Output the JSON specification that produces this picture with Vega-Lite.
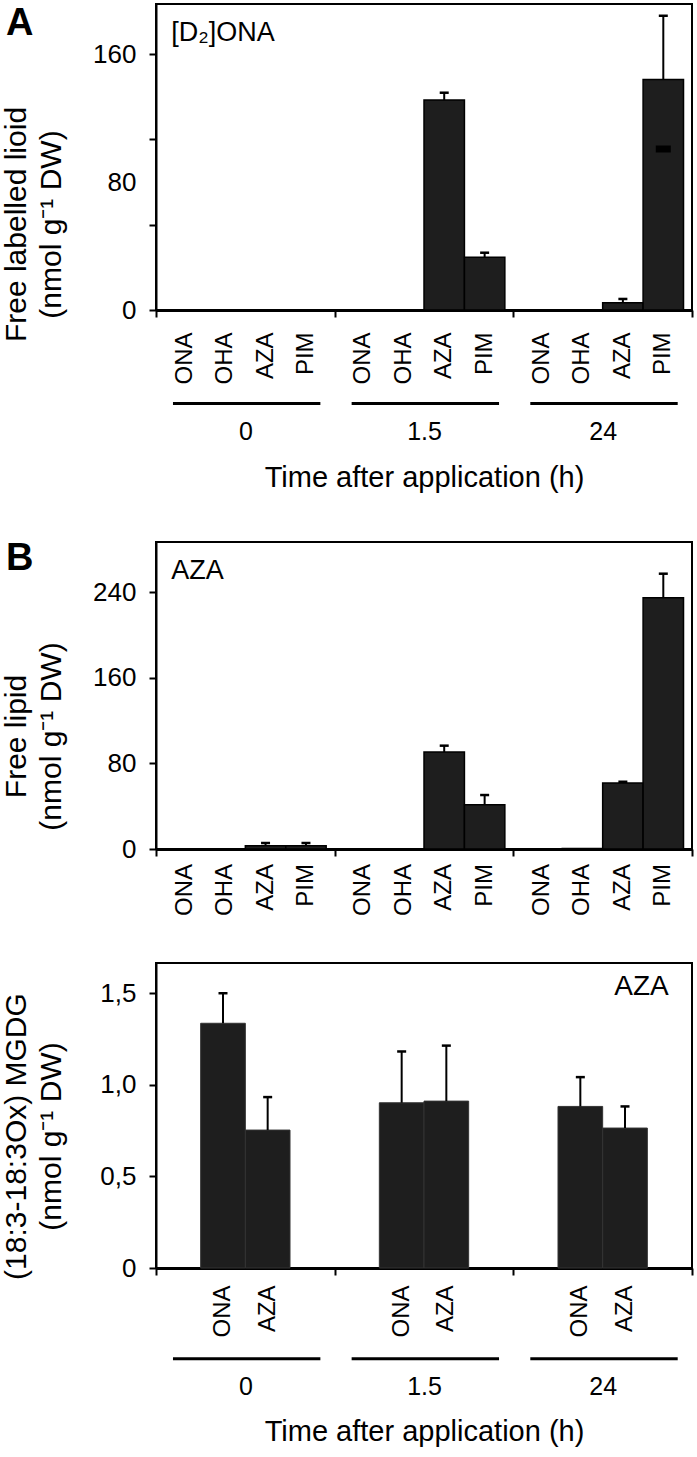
{
  "$schema": "https://vega.github.io/schema/vega-lite/v6.json",
  "background": "white",
  "padding": {"left": 0, "top": 3, "right": 0, "bottom": 0},
  "spacing": 45,
  "resolve": {"scale": {"x": "independent", "xOffset": "independent", "y": "independent"}, "axis": {"x": "independent", "y": "independent"}},
  "datasets": {
    "a": [
      {"time": "0", "compound": "ONA", "value": 0, "hi": 0},
      {"time": "0", "compound": "OHA", "value": 0, "hi": 0},
      {"time": "0", "compound": "AZA", "value": 0, "hi": 0},
      {"time": "0", "compound": "PIM", "value": 0, "hi": 0},
      {"time": "1.5", "compound": "ONA", "value": 0, "hi": 0},
      {"time": "1.5", "compound": "OHA", "value": 0, "hi": 0},
      {"time": "1.5", "compound": "AZA", "value": 131.3, "hi": 135.8},
      {"time": "1.5", "compound": "PIM", "value": 32.9, "hi": 35.8},
      {"time": "24", "compound": "ONA", "value": 0, "hi": 0},
      {"time": "24", "compound": "OHA", "value": 0, "hi": 0},
      {"time": "24", "compound": "AZA", "value": 4.6, "hi": 6.9},
      {"time": "24", "compound": "PIM", "value": 144.1, "hi": 183.9, "lo": 100.7}
    ],
    "b": [
      {"time": "0", "compound": "ONA", "value": 0, "hi": 0},
      {"time": "0", "compound": "OHA", "value": 0, "hi": 0},
      {"time": "0", "compound": "AZA", "value": 3.1, "hi": 5.6},
      {"time": "0", "compound": "PIM", "value": 3.1, "hi": 5.6},
      {"time": "1.5", "compound": "ONA", "value": 0, "hi": 0},
      {"time": "1.5", "compound": "OHA", "value": 0, "hi": 0},
      {"time": "1.5", "compound": "AZA", "value": 90.6, "hi": 96.5},
      {"time": "1.5", "compound": "PIM", "value": 41.4, "hi": 50.4},
      {"time": "24", "compound": "ONA", "value": 0, "hi": 0},
      {"time": "24", "compound": "OHA", "value": 0.5, "hi": 0.5},
      {"time": "24", "compound": "AZA", "value": 61.6, "hi": 62.8},
      {"time": "24", "compound": "PIM", "value": 234.7, "hi": 257.1}
    ],
    "c": [
      {"time": "0", "compound": "ONA", "value": 1.336, "hi": 1.5},
      {"time": "0", "compound": "AZA", "value": 0.753, "hi": 0.933},
      {"time": "1.5", "compound": "ONA", "value": 0.902, "hi": 1.182},
      {"time": "1.5", "compound": "AZA", "value": 0.911, "hi": 1.214},
      {"time": "24", "compound": "ONA", "value": 0.882, "hi": 1.042},
      {"time": "24", "compound": "AZA", "value": 0.764, "hi": 0.882}
    ],
    "groups": [{"time": "0"}, {"time": "1.5"}, {"time": "24"}]
  },
  "vconcat": [
    {
      "width": 536,
      "height": 306,
      "layer": [
        {
          "data": {"name": "a"},
          "mark": {"type": "bar", "fill": "#1e1e1e", "stroke": "black", "strokeWidth": 1.5},
          "encoding": {
            "x": {"field": "time", "type": "nominal", "sort": ["0", "1.5", "24"], "scale": {"paddingInner": 0, "paddingOuter": 0},
              "axis": {"title": "Time after application (h)", "labelFontSize": 25, "labelPadding": 102, "titleFontSize": 29, "titleY": 153, "titleBaseline": "top"}},
            "xOffset": {"field": "compound", "type": "nominal", "sort": ["ONA", "OHA", "AZA", "PIM"], "scale": {"paddingInner": 0, "paddingOuter": 0.21}},
            "y": {"field": "value", "type": "quantitative", "scale": {"domain": [0, 191.25], "nice": false},
              "axis": {"title": ["Free labelled lioid", "(nmol g⁻¹ DW)"], "titleY": 220,
                "values": [0, 53.333, 80, 106.667, 160],
                "labelExpr": "(datum.value == 0 || datum.value == 80 || datum.value == 160) ? datum.label : ''",
                "tickOpacity": {"condition": {"test": "datum.value == 80", "value": 0}, "value": 1}}}
          }
        },
        {
          "data": {"name": "a"},
          "transform": [{"filter": "datum.hi > datum.value"}],
          "mark": {"type": "rule", "color": "black", "strokeWidth": 2},
          "encoding": {
            "x": {"field": "time", "type": "nominal", "sort": ["0", "1.5", "24"]},
            "xOffset": {"field": "compound", "type": "nominal", "sort": ["ONA", "OHA", "AZA", "PIM"]},
            "y": {"field": "value", "type": "quantitative"},
            "y2": {"field": "hi"}
          }
        },
        {
          "data": {"name": "a"},
          "transform": [{"filter": "datum.hi > datum.value"}],
          "mark": {"type": "tick", "color": "black", "size": 9, "thickness": 2.5, "opacity": 1},
          "encoding": {
            "x": {"field": "time", "type": "nominal", "sort": ["0", "1.5", "24"]},
            "xOffset": {"field": "compound", "type": "nominal", "sort": ["ONA", "OHA", "AZA", "PIM"]},
            "y": {"field": "hi", "type": "quantitative"}
          }
        },
        {
          "data": {"name": "a"},
          "transform": [{"filter": "isValid(datum.lo)"}],
          "mark": {"type": "tick", "color": "black", "size": 15, "thickness": 7, "opacity": 1},
          "encoding": {
            "x": {"field": "time", "type": "nominal", "sort": ["0", "1.5", "24"]},
            "xOffset": {"field": "compound", "type": "nominal", "sort": ["ONA", "OHA", "AZA", "PIM"]},
            "y": {"field": "lo", "type": "quantitative"}
          }
        },
        {
          "data": {"name": "a"},
          "mark": {"type": "text", "angle": 270, "align": "right", "baseline": "middle", "fontSize": 24, "color": "black"},
          "encoding": {
            "x": {"field": "time", "type": "nominal", "sort": ["0", "1.5", "24"]},
            "xOffset": {"field": "compound", "type": "nominal", "sort": ["ONA", "OHA", "AZA", "PIM"]},
            "y": {"datum": -14, "type": "quantitative"},
            "text": {"field": "compound"}
          }
        },
        {
          "data": {"name": "groups"},
          "mark": {"type": "rule", "color": "black", "strokeWidth": 3},
          "encoding": {
            "x": {"field": "time", "type": "nominal", "sort": ["0", "1.5", "24"], "bandPosition": 0.095},
            "x2": {"field": "time", "bandPosition": 0.92},
            "y": {"datum": -58.4, "type": "quantitative"}
          }
        },
        {
          "data": {"values": [{"label": "[D₂]ONA"}]},
          "mark": {"type": "text", "align": "left", "baseline": "middle", "fontSize": 27, "color": "black"},
          "encoding": {
            "x": {"datum": "0", "type": "nominal", "bandPosition": 0.085},
            "y": {"datum": 173.3, "type": "quantitative"},
            "text": {"field": "label"}
          }
        },
        {
          "data": {"values": [{"label": "A"}]},
          "mark": {"type": "text", "align": "left", "baseline": "middle", "fontSize": 38, "fontWeight": "bold", "color": "black"},
          "encoding": {
            "x": {"datum": "0", "type": "nominal", "bandPosition": -0.84},
            "y": {"datum": 178.5, "type": "quantitative"},
            "text": {"field": "label"}
          }
        }
      ]
    },
    {
      "width": 536,
      "height": 307,
      "layer": [
        {
          "data": {"name": "b"},
          "mark": {"type": "bar", "fill": "#1e1e1e", "stroke": "black", "strokeWidth": 1.5},
          "encoding": {
            "x": {"field": "time", "type": "nominal", "sort": ["0", "1.5", "24"], "scale": {"paddingInner": 0, "paddingOuter": 0},
              "axis": {"title": null, "labels": false}},
            "xOffset": {"field": "compound", "type": "nominal", "sort": ["ONA", "OHA", "AZA", "PIM"], "scale": {"paddingInner": 0, "paddingOuter": 0.21}},
            "y": {"field": "value", "type": "quantitative", "scale": {"domain": [0, 286.7], "nice": false},
              "axis": {"title": ["Free lipid", "(nmol g⁻¹ DW)"], "titleY": 194, "values": [0, 80, 160, 240]}}
          }
        },
        {
          "data": {"name": "b"},
          "transform": [{"filter": "datum.hi > datum.value"}],
          "mark": {"type": "rule", "color": "black", "strokeWidth": 2},
          "encoding": {
            "x": {"field": "time", "type": "nominal", "sort": ["0", "1.5", "24"]},
            "xOffset": {"field": "compound", "type": "nominal", "sort": ["ONA", "OHA", "AZA", "PIM"]},
            "y": {"field": "value", "type": "quantitative"},
            "y2": {"field": "hi"}
          }
        },
        {
          "data": {"name": "b"},
          "transform": [{"filter": "datum.hi > datum.value"}],
          "mark": {"type": "tick", "color": "black", "size": 9, "thickness": 2.5, "opacity": 1},
          "encoding": {
            "x": {"field": "time", "type": "nominal", "sort": ["0", "1.5", "24"]},
            "xOffset": {"field": "compound", "type": "nominal", "sort": ["ONA", "OHA", "AZA", "PIM"]},
            "y": {"field": "hi", "type": "quantitative"}
          }
        },
        {
          "data": {"name": "b"},
          "mark": {"type": "text", "angle": 270, "align": "right", "baseline": "middle", "fontSize": 24, "color": "black"},
          "encoding": {
            "x": {"field": "time", "type": "nominal", "sort": ["0", "1.5", "24"]},
            "xOffset": {"field": "compound", "type": "nominal", "sort": ["ONA", "OHA", "AZA", "PIM"]},
            "y": {"datum": -14, "type": "quantitative"},
            "text": {"field": "compound"}
          }
        },
        {
          "data": {"values": [{"label": "AZA"}]},
          "mark": {"type": "text", "align": "left", "baseline": "middle", "fontSize": 27, "color": "black"},
          "encoding": {
            "x": {"datum": "0", "type": "nominal", "bandPosition": 0.085},
            "y": {"datum": 260, "type": "quantitative"},
            "text": {"field": "label"}
          }
        },
        {
          "data": {"values": [{"label": "B"}]},
          "mark": {"type": "text", "align": "left", "baseline": "middle", "fontSize": 38, "fontWeight": "bold", "color": "black"},
          "encoding": {
            "x": {"datum": "0", "type": "nominal", "bandPosition": -0.84},
            "y": {"datum": 271, "type": "quantitative"},
            "text": {"field": "label"}
          }
        }
      ]
    },
    {
      "width": 536,
      "height": 305,
      "layer": [
        {
          "data": {"name": "c"},
          "mark": {"type": "bar", "fill": "#1e1e1e", "stroke": "#333333", "strokeWidth": 1},
          "encoding": {
            "x": {"field": "time", "type": "nominal", "sort": ["0", "1.5", "24"], "scale": {"paddingInner": 0, "paddingOuter": 0},
              "axis": {"title": "Time after application (h)", "labelFontSize": 25, "labelPadding": 99, "titleFontSize": 29, "titleY": 149, "titleBaseline": "top"}},
            "xOffset": {"field": "compound", "type": "nominal", "sort": ["ONA", "AZA"], "scale": {"paddingInner": 0, "paddingOuter": 1.2}},
            "y": {"field": "value", "type": "quantitative", "scale": {"domain": [0, 1.665], "nice": false},
              "axis": {"title": ["(18:3-18:3Ox) MGDG", "(nmol g⁻¹ DW)"], "titleY": 173, "values": [0, 0.5, 1, 1.5],
                "labelExpr": "datum.value == 0 ? '0' : replace(format(datum.value, '.1f'), '.', ',')"}}
          }
        },
        {
          "data": {"name": "c"},
          "mark": {"type": "rule", "color": "black", "strokeWidth": 2},
          "encoding": {
            "x": {"field": "time", "type": "nominal", "sort": ["0", "1.5", "24"]},
            "xOffset": {"field": "compound", "type": "nominal", "sort": ["ONA", "AZA"]},
            "y": {"field": "value", "type": "quantitative"},
            "y2": {"field": "hi"}
          }
        },
        {
          "data": {"name": "c"},
          "mark": {"type": "tick", "color": "black", "size": 9, "thickness": 2.5, "opacity": 1},
          "encoding": {
            "x": {"field": "time", "type": "nominal", "sort": ["0", "1.5", "24"]},
            "xOffset": {"field": "compound", "type": "nominal", "sort": ["ONA", "AZA"]},
            "y": {"field": "hi", "type": "quantitative"}
          }
        },
        {
          "data": {"name": "c"},
          "mark": {"type": "text", "angle": 270, "align": "right", "baseline": "middle", "fontSize": 24, "color": "black"},
          "encoding": {
            "x": {"field": "time", "type": "nominal", "sort": ["0", "1.5", "24"]},
            "xOffset": {"field": "compound", "type": "nominal", "sort": ["ONA", "AZA"]},
            "y": {"datum": -0.095, "type": "quantitative"},
            "text": {"field": "compound"}
          }
        },
        {
          "data": {"name": "groups"},
          "mark": {"type": "rule", "color": "black", "strokeWidth": 3},
          "encoding": {
            "x": {"field": "time", "type": "nominal", "sort": ["0", "1.5", "24"], "bandPosition": 0.095},
            "x2": {"field": "time", "bandPosition": 0.92},
            "y": {"datum": -0.495, "type": "quantitative"}
          }
        },
        {
          "data": {"values": [{"label": "AZA"}]},
          "mark": {"type": "text", "align": "right", "baseline": "middle", "fontSize": 28, "color": "black"},
          "encoding": {
            "x": {"datum": "24", "type": "nominal", "bandPosition": 0.87},
            "y": {"datum": 1.535, "type": "quantitative"},
            "text": {"field": "label"}
          }
        }
      ]
    }
  ],
  "config": {
    "font": "Liberation Sans",
    "view": {"stroke": "black", "strokeWidth": 2},
    "axis": {"grid": false, "domainColor": "black", "tickColor": "black", "labelColor": "black", "titleColor": "black", "labelFont": "Liberation Sans", "titleFont": "Liberation Sans", "titleFontWeight": "normal"},
    "axisX": {"tickSize": 7, "tickWidth": 2, "domainWidth": 3, "labelAngle": 0, "tickBand": "extent"},
    "axisY": {"tickSize": 7, "tickWidth": 2, "domainWidth": 2, "labelFontSize": 26, "labelPadding": 13, "titleFontSize": 30, "titleAngle": 270, "titleBaseline": "alphabetic", "titleLineHeight": 35, "titleX": -131, "titleAlign": "center"}
  }
}
